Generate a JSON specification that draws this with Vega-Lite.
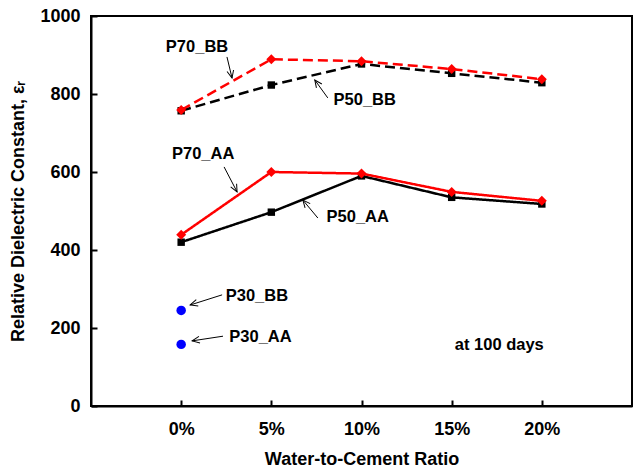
{
  "$schema": "https://vega.github.io/schema/vega-lite/v6.json",
  "width": 541,
  "height": 390,
  "autosize": "none",
  "padding": {"left": 91, "top": 16, "right": 1, "bottom": 62},
  "background": "white",
  "config": {
    "view": {"stroke": "black", "strokeWidth": 2},
    "font": "Liberation Sans",
    "axis": {
      "domainColor": "black", "domainWidth": 2, "tickColor": "black", "tickWidth": 2,
      "grid": false, "labelFont": "Liberation Sans", "labelFontWeight": "bold", "labelFontSize": 18,
      "labelColor": "black", "titleFont": "Liberation Sans", "titleFontWeight": "bold",
      "titleFontSize": 18, "titleColor": "black"
    }
  },
  "datasets": {
    "series": [
      {"ratio": 0, "value": 757, "series": "P50_BB", "group": "black"},
      {"ratio": 5, "value": 823, "series": "P50_BB", "group": "black"},
      {"ratio": 10, "value": 877, "series": "P50_BB", "group": "black"},
      {"ratio": 15, "value": 853, "series": "P50_BB", "group": "black"},
      {"ratio": 20, "value": 829, "series": "P50_BB", "group": "black"},
      {"ratio": 0, "value": 420, "series": "P50_AA", "group": "black"},
      {"ratio": 5, "value": 497, "series": "P50_AA", "group": "black"},
      {"ratio": 10, "value": 590, "series": "P50_AA", "group": "black"},
      {"ratio": 15, "value": 535, "series": "P50_AA", "group": "black"},
      {"ratio": 20, "value": 518, "series": "P50_AA", "group": "black"},
      {"ratio": 0, "value": 759, "series": "P70_BB", "group": "red"},
      {"ratio": 5, "value": 889, "series": "P70_BB", "group": "red"},
      {"ratio": 10, "value": 884, "series": "P70_BB", "group": "red"},
      {"ratio": 15, "value": 864, "series": "P70_BB", "group": "red"},
      {"ratio": 20, "value": 838, "series": "P70_BB", "group": "red"},
      {"ratio": 0, "value": 439, "series": "P70_AA", "group": "red"},
      {"ratio": 5, "value": 600, "series": "P70_AA", "group": "red"},
      {"ratio": 10, "value": 596, "series": "P70_AA", "group": "red"},
      {"ratio": 15, "value": 549, "series": "P70_AA", "group": "red"},
      {"ratio": 20, "value": 526, "series": "P70_AA", "group": "red"}
    ],
    "p30": [
      {"ratio": 0, "value": 245, "series": "P30_BB"},
      {"ratio": 0, "value": 158, "series": "P30_AA"}
    ],
    "labels": [
      {"x": 0.88, "y": 921, "text": "P70_BB"},
      {"x": 10.18, "y": 785, "text": "P50_BB"},
      {"x": 1.22, "y": 646, "text": "P70_AA"},
      {"x": 9.79, "y": 485, "text": "P50_AA"},
      {"x": 4.2, "y": 282, "text": "P30_BB"},
      {"x": 4.4, "y": 177, "text": "P30_AA"},
      {"x": 17.64, "y": 156, "text": "at 100 days"}
    ],
    "arrows": [
      {"x": 2.54, "y": 895, "x2": 2.82, "y2": 841, "angle": 76.6},
      {"x": 8.13, "y": 790, "x2": 7.41, "y2": 836, "angle": 234.2},
      {"x": 2.38, "y": 613, "x2": 3.1, "y2": 549, "angle": 62.5},
      {"x": 7.58, "y": 482, "x2": 6.75, "y2": 528, "angle": 230.2},
      {"x": 2.27, "y": 285, "x2": 0.5, "y2": 259, "angle": 162.6},
      {"x": 2.32, "y": 179, "x2": 0.61, "y2": 167, "angle": 170.8}
    ]
  },
  "layer": [
    {
      "data": {"name": "arrows"},
      "mark": {"type": "rule", "color": "black", "strokeWidth": 1},
      "encoding": {
        "x": {"field": "x", "type": "quantitative", "scale": {"domain": [-5, 25], "nice": false, "zero": false},
          "axis": {"values": [0, 5, 10, 15, 20], "labelExpr": "datum.value + '%'", "tickSize": -6, "labelPadding": 20, "title": "Water-to-Cement Ratio", "titlePadding": 12}},
        "y": {"field": "y", "type": "quantitative", "scale": {"domain": [0, 1000], "nice": false},
          "axis": {"values": [0, 100, 200, 300, 400, 500, 600, 700, 800, 900, 1000], "labelExpr": "datum.value % 200 == 0 ? datum.value : ''", "tickSize": -6, "labelPadding": 17, "title": "Relative Dielectric Constant, εᵣ", "titlePadding": 12}},
        "x2": {"field": "x2"},
        "y2": {"field": "y2"}
      }
    },
    {
      "data": {"name": "arrows"},
      "mark": {"type": "point", "shape": "M -1 -0.45 L 0 0 L -1 0.45", "filled": false, "stroke": "black", "strokeWidth": 1, "size": 220, "opacity": 1},
      "encoding": {
        "x": {"field": "x2", "type": "quantitative"},
        "y": {"field": "y2", "type": "quantitative"},
        "angle": {"field": "angle", "type": "quantitative", "scale": null}
      }
    },
    {
      "data": {"name": "series"},
      "transform": [{"filter": "datum.group == 'black'"}],
      "mark": {"type": "line", "color": "black", "strokeWidth": 2.5},
      "encoding": {
        "x": {"field": "ratio", "type": "quantitative"},
        "y": {"field": "value", "type": "quantitative"},
        "detail": {"field": "series"},
        "strokeDash": {"field": "series", "type": "nominal", "scale": {"domain": ["P50_BB", "P50_AA"], "range": [[10, 5], [1, 0]]}, "legend": null}
      }
    },
    {
      "data": {"name": "series"},
      "transform": [{"filter": "datum.group == 'black'"}],
      "mark": {"type": "point", "shape": "square", "filled": true, "color": "black", "size": 55, "opacity": 1},
      "encoding": {
        "x": {"field": "ratio", "type": "quantitative"},
        "y": {"field": "value", "type": "quantitative"}
      }
    },
    {
      "data": {"name": "series"},
      "transform": [{"filter": "datum.group == 'red'"}],
      "mark": {"type": "line", "color": "#ff0000", "strokeWidth": 2.5},
      "encoding": {
        "x": {"field": "ratio", "type": "quantitative"},
        "y": {"field": "value", "type": "quantitative"},
        "detail": {"field": "series"},
        "strokeDash": {"field": "series", "type": "nominal", "scale": {"domain": ["P70_BB", "P70_AA"], "range": [[10, 5], [1, 0]]}, "legend": null}
      }
    },
    {
      "data": {"name": "series"},
      "transform": [{"filter": "datum.group == 'red'"}],
      "mark": {"type": "point", "shape": "diamond", "filled": true, "color": "#ff0000", "size": 100, "opacity": 1},
      "encoding": {
        "x": {"field": "ratio", "type": "quantitative"},
        "y": {"field": "value", "type": "quantitative"}
      }
    },
    {
      "data": {"name": "p30"},
      "mark": {"type": "point", "shape": "circle", "filled": true, "color": "#0000ff", "size": 90, "opacity": 1},
      "encoding": {
        "x": {"field": "ratio", "type": "quantitative"},
        "y": {"field": "value", "type": "quantitative"}
      }
    },
    {
      "data": {"name": "labels"},
      "mark": {"type": "text", "font": "Liberation Sans", "fontWeight": "bold", "fontSize": 16.5, "color": "black", "align": "center", "baseline": "middle"},
      "encoding": {
        "x": {"field": "x", "type": "quantitative"},
        "y": {"field": "y", "type": "quantitative"},
        "text": {"field": "text"}
      }
    }
  ]
}
